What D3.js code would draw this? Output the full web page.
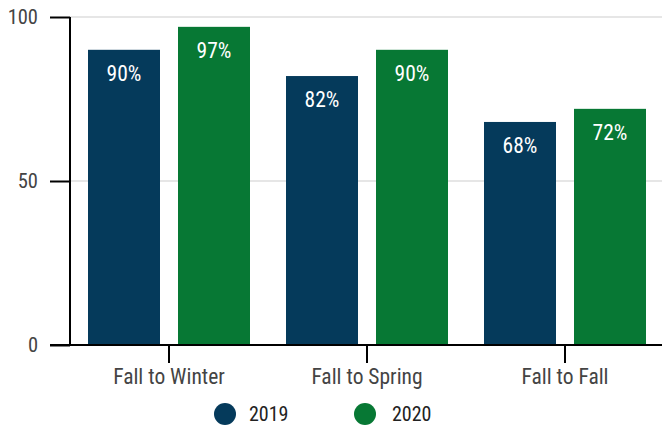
<!DOCTYPE html>
<html>
<head>
<meta charset="utf-8">
<script src="https://cdn.jsdelivr.net/npm/d3@7"></script>
<style>
  body { margin: 0; background: #fff; }
  text { font-family: "Roboto Condensed", "Liberation Sans Narrow", Roboto, sans-serif; }
</style>
</head>
<body>
<div id="chart"></div>
<script>
var categories = ["Fall to Winter", "Fall to Spring", "Fall to Fall"]
var seriesNames = ["2019", "2020"]
var values2019 = [90, 82, 68]
var values2020 = [97, 90, 72]
var yTicks = [0, 50, 100]
var colors = ["#053a5b", "#077834"]

var width = 662, height = 428
var margin = {top: 17, right: 0, bottom: 83, left: 70}

var svg = d3.select("#chart").append("svg")
  .attr("width", width)
  .attr("height", height)

var y = d3.scaleLinear()
  .domain([0, 100])
  .range([height - margin.bottom, margin.top])

var x0 = d3.scaleBand()
  .domain(categories)
  .range([margin.left, 664])
  .paddingInner(36 / 198)
  .paddingOuter(18 / 198)

var x1 = d3.scaleBand()
  .domain(seriesNames)
  .range([0, x0.bandwidth()])
  .paddingInner(0.2)

var rows = categories.map(function (c, i) {
  return {cat: c, vals: [values2019[i], values2020[i]]}
})

// gridlines
svg.append("g")
  .selectAll("line")
  .data(yTicks.filter(d => d > 0))
  .join("line")
  .attr("x1", margin.left)
  .attr("x2", width)
  .attr("y1", d => y(d))
  .attr("y2", d => y(d))
  .attr("stroke", "#dedede")
  .attr("stroke-width", 1.5)

// bars
var groups = svg.append("g")
  .selectAll("g")
  .data(rows)
  .join("g")
  .attr("transform", d => `translate(${x0(d.cat)},0)`)

groups.selectAll("rect")
  .data(d => d.vals.map((v, i) => ({key: seriesNames[i], v: v, i: i})))
  .join("rect")
  .attr("x", d => x1(d.key))
  .attr("width", x1.bandwidth())
  .attr("y", d => y(d.v))
  .attr("height", d => y(0) - y(d.v))
  .attr("fill", d => colors[d.i])

groups.selectAll("text")
  .data(d => d.vals.map((v, i) => ({key: seriesNames[i], v: v, i: i})))
  .join("text")
  .attr("x", d => x1(d.key) + x1.bandwidth() / 2)
  .attr("y", d => y(d.v) + 31)
  .attr("text-anchor", "middle")
  .attr("fill", "#fff")
  .style("font-size", "21.5px")
  .text(d => d.v + "%")

// y axis
var yAxis = svg.append("g")
  .attr("transform", `translate(${margin.left},0)`)
  .call(d3.axisLeft(y).tickValues(yTicks).tickSize(20).tickPadding(12))
yAxis.select(".domain").attr("stroke", "#000").attr("stroke-width", 2)
  .attr("d", `M0,${y(100)}V${y(0)}`)
yAxis.selectAll(".tick line").attr("stroke", "#000").attr("stroke-width", 2)
yAxis.selectAll(".tick text").attr("fill", "#444").style("font-size", "20.5px")

// x axis
var xAxis = svg.append("g")
  .attr("transform", `translate(0,${y(0)})`)
  .call(d3.axisBottom(x0).tickSize(18).tickPadding(6))
xAxis.select(".domain").attr("stroke", "#000").attr("stroke-width", 2)
  .attr("d", `M50,0H${width}`)
xAxis.selectAll(".tick line").attr("stroke", "#000").attr("stroke-width", 2)
xAxis.selectAll(".tick text").attr("fill", "#444").style("font-size", "21.5px")

// legend
var legendX = [225, 365]
var legend = svg.append("g")
  .selectAll("g")
  .data(seriesNames)
  .join("g")
  .attr("transform", (d, i) => `translate(${legendX[i]},414)`)
legend.append("circle")
  .attr("r", 11)
  .attr("fill", (d, i) => colors[i])
legend.append("text")
  .attr("x", (d, i) => i === 0 ? 24 : 27)
  .attr("dy", "0.35em")
  .attr("fill", "#222")
  .style("font-size", "20px")
  .text(d => d)
</script>
</body>
</html>
